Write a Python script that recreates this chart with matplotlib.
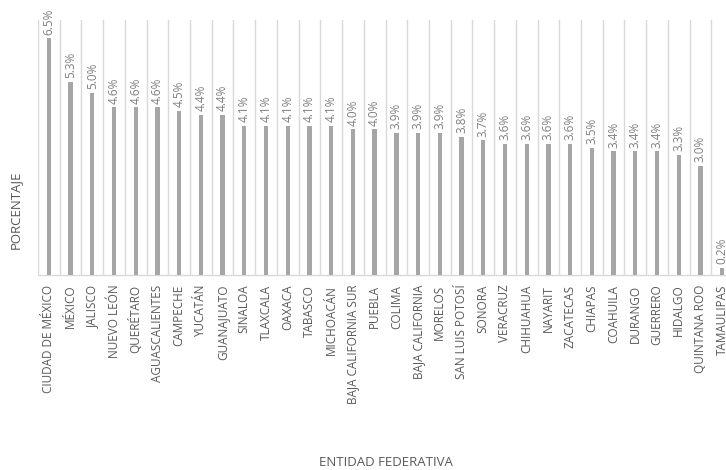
import matplotlib
matplotlib.use("Agg")
import matplotlib.pyplot as plt
import numpy as np

estados = ["CIUDAD DE MÉXICO", "MÉXICO", "JALISCO", "NUEVO LEÓN", "QUERÉTARO",
           "AGUASCALIENTES", "CAMPECHE", "YUCATÁN", "GUANAJUATO", "SINALOA",
           "TLAXCALA", "OAXACA", "TABASCO", "MICHOACÁN", "BAJA CALIFORNIA SUR",
           "PUEBLA", "COLIMA", "BAJA CALIFORNIA", "MORELOS", "SAN LUIS POTOSÍ",
           "SONORA", "VERACRUZ", "CHIHUAHUA", "NAYARIT", "ZACATECAS", "CHIAPAS",
           "COAHUILA", "DURANGO", "GUERRERO", "HIDALGO", "QUINTANA ROO", "TAMAULIPAS"]
porcentaje = [6.5, 5.3, 5.0, 4.6, 4.6, 4.6, 4.5, 4.4, 4.4, 4.1, 4.1, 4.1, 4.1, 4.1,
              4.0, 4.0, 3.9, 3.9, 3.9, 3.8, 3.7, 3.6, 3.6, 3.6, 3.6, 3.5, 3.4, 3.4,
              3.4, 3.3, 3.0, 0.2]

plt.rcParams['font.family'] = ['Open Sans', 'DejaVu Sans']

W, H = 726, 470
fig = plt.figure(figsize=(W / 100, H / 100), dpi=100)
left, right, top, bottom = 38, 733, 20, 275
ax = fig.add_axes([left / W, 1 - bottom / H, (right - left) / W, (bottom - top) / H])

x = np.arange(len(estados))
ax.bar(x, porcentaje, width=0.2, color="#a6a6a6", zorder=3)
ax.set_xlim(-0.5, len(estados) - 0.5)
ax.set_ylim(0, 7)

for i, v in enumerate(porcentaje):
    ax.text(i, v + 0.1, f"{v:.1f}%", rotation=90, ha="center", va="bottom",
            fontsize=8.5, color="#7f7f7f")

ax.set_xticks(x)
ax.set_xticklabels(estados, rotation=90, fontsize=8.5, color="#595959")
ax.set_xticks(np.arange(-0.5, len(estados)), minor=True)
ax.tick_params(axis="x", which="both", length=0, pad=7)
ax.grid(axis="x", which="minor", color="#d9d9d9", linewidth=1, zorder=0)
ax.set_yticks([])
for s in ["top", "right", "left"]:
    ax.spines[s].set_visible(False)
ax.spines["bottom"].set_color("#d9d9d9")
ax.spines["bottom"].set_linewidth(1)

fig.text(15 / W, 1 - 210 / H, "PORCENTAJE", rotation=90, ha="center", va="center",
         fontsize=9.5, color="#595959")
fig.text(386 / W, 1 - 462 / H, "ENTIDAD FEDERATIVA", ha="center", va="center",
         fontsize=9.5, color="#595959")

fig.savefig("out.png", dpi=100)
